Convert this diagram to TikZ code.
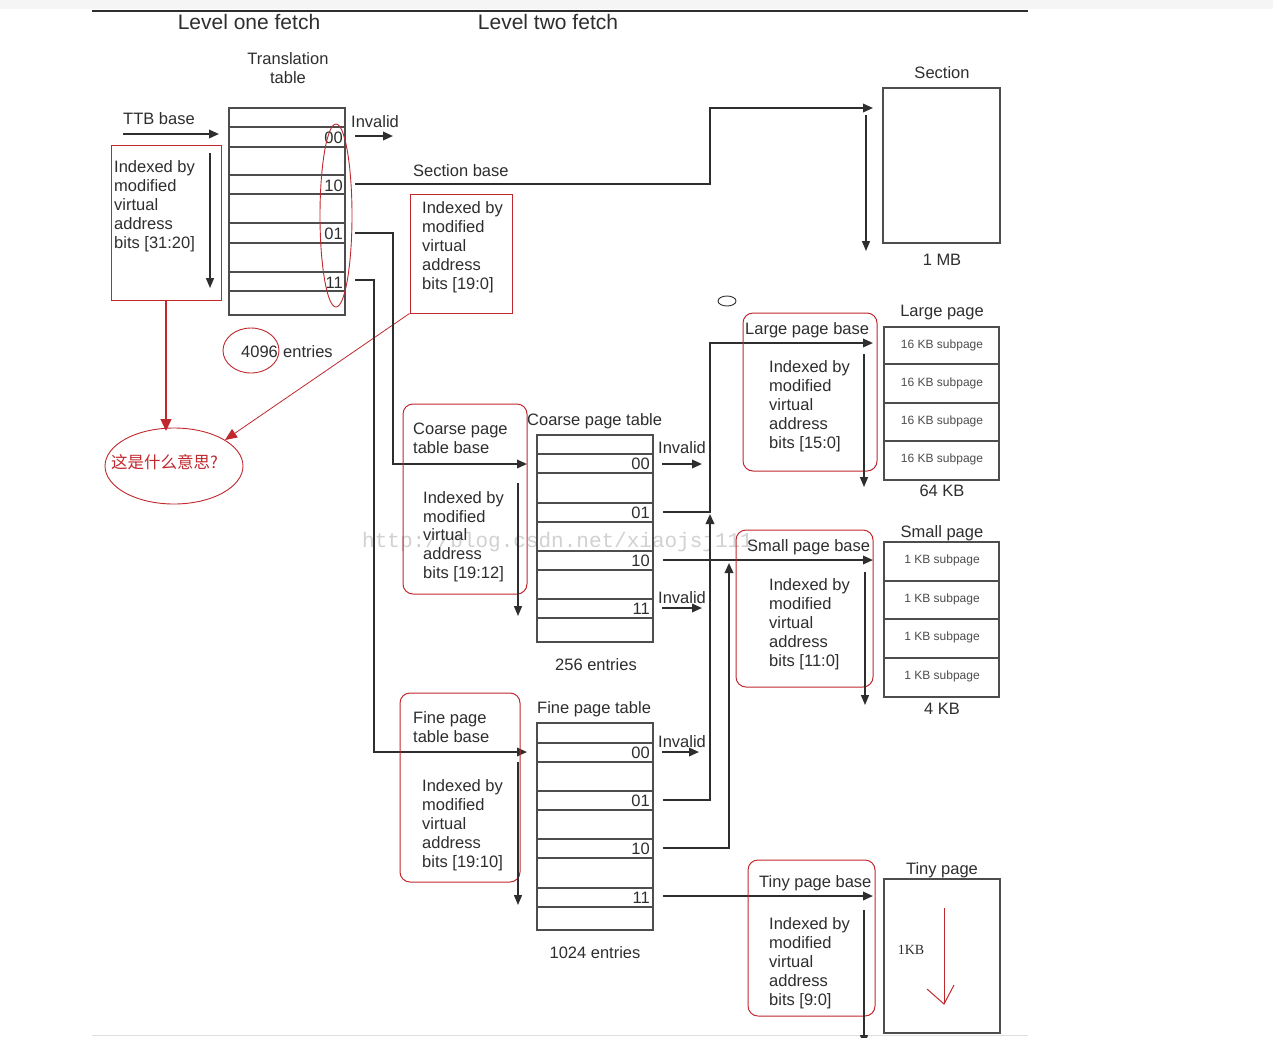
\documentclass[tikz,border=0pt]{standalone}
\usepackage{fontspec}
\setmainfont{Liberation Sans}
\newfontfamily\cjkfont{Noto Sans CJK SC}
\newfontfamily\wmfont{Liberation Mono}
\newfontfamily\serfont{Liberation Serif}
\usetikzlibrary{arrows.meta,shapes.geometric}
\definecolor{rd}{HTML}{C0282E}
\definecolor{ink}{HTML}{2E2E2E}
\begin{document}
\begin{tikzpicture}[x=1pt,y=-1pt,
  lbl/.style={font=\fontsize{16.5}{19.2}\selectfont, text=ink, inner sep=0pt},
  hdr/.style={font=\fontsize{21}{24}\selectfont, text=ink, inner sep=0pt},
  sml/.style={font=\fontsize{12}{14}\selectfont, text=ink!85, inner sep=0pt},
  blk/.style={lbl, align=left, anchor=north west},
  conn/.style={draw=ink, line width=1.9pt},
  arr/.style={conn, -{Triangle[length=10pt,width=8.5pt]}},
  idx/.style={draw=ink, line width=1.3pt, -{Triangle[length=10pt,width=8pt]}},
  rbox/.style={draw=rd, line width=1pt, inner sep=0pt},
  rrbox/.style={rbox, rounded corners=10pt},
  tbl/.style={draw=ink!85, line width=1.3pt, inner sep=0pt},
  rline/.style={draw=rd, line width=1pt},
]
\useasboundingbox (0,0) rectangle (1273,1037);
\fill[white] (0,0) rectangle (1273,1037);
\fill[black!4] (0,0) rectangle (1273,9);
\draw[ink, line width=1.5pt] (92,11) -- (1028,11);
\draw[black!12, line width=1pt] (92,1035.5) -- (1028,1035.5);

% watermark
\node[font=\wmfont\fontsize{21}{24}\selectfont, text=black!18, inner sep=0pt, anchor=base west] (wm) at (362,547) {http://blog.csdn.net/xiaojsj111};

% headers
\node[hdr, anchor=base] (h1) at (249,29) {Level one fetch};
\node[hdr, anchor=base] (h2) at (548,29) {Level two fetch};

% ---------- translation table ----------
\node[lbl, align=center, anchor=north] (ttl) at (288,52) {Translation\\table};
\node[tbl, minimum width=116, minimum height=207] (tt) at (287,211.5) {};
\foreach \y in {127,147,175,194,223,243,272,291} \draw[tbl] (229,\y) -- (345,\y);
\node[lbl, anchor=base east] (t00) at (343,143) {00};
\node[lbl, anchor=base east] (t10) at (343,191) {10};
\node[lbl, anchor=base east] (t01) at (343,239) {01};
\node[lbl, anchor=base east] (t11) at (343,288) {11};
\node[ellipse, draw=rd, line width=0.9pt, minimum width=32, minimum height=183, inner sep=0pt] (tte) at (336,215.5) {};

\node[lbl, anchor=base west] (ttb) at (123,124) {TTB base};
\coordinate (ttbS) at (123,134);
\coordinate (ttbE) at (219,134);
\draw[arr] (ttbS) -- (ttbE);

\node[rbox, minimum width=110, minimum height=155] (b1) at (166,222.5) {};
\node[blk] (b1t) at (114,160) {Indexed by\\modified\\virtual\\address\\bits [31:20]};
\draw[idx] (210,153) -- (210,288);

\node[lbl, anchor=base west] (inv0) at (351,127) {Invalid};
\coordinate (inv0S) at (355,136);
\coordinate (inv0E) at (393,136);
\draw[arr] (inv0S) -- (inv0E);

\node[ellipse, draw=rd, line width=0.9pt, minimum width=56, minimum height=45, inner sep=0pt] (e4096) at (251,350.5) {};
\node[lbl, anchor=base west] (n4096) at (241,357) {4096};
\node[lbl, anchor=base west] (nent) at (283,357) {entries};

\node[ellipse, draw=rd, line width=0.9pt, minimum width=138, minimum height=76, inner sep=0pt] (q) at (174,466) {};
\node[font=\cjkfont\fontsize{16.5}{19}\selectfont, text=rd, inner sep=0pt, anchor=base west] (qt) at (111,468) {这是什么意思?};

% section
\node[lbl, anchor=base west] (sb) at (413,176) {Section base};
\coordinate (s10) at (355,184);
\coordinate (sec) at (873,108);
\draw[arr] (s10) -- (710,184) -- (710,108) -- (sec);
\node[lbl, anchor=base] (secl) at (942,78) {Section};
\node[tbl, minimum width=117, minimum height=155] (secb) at (941.5,165.5) {};
\node[lbl, anchor=base] (mb) at (942,265) {1 MB};
\draw[idx] (866,115) -- (866,251);

\node[rbox, minimum width=102, minimum height=119] (b2) at (461,253.5) {};
\node[blk] (b2t) at (422,201) {Indexed by\\modified\\virtual\\address\\bits [19:0]};

% red annotation arrows
\coordinate (qtop) at (166,431);
\draw[rline, line width=1.3pt, -{Triangle[length=12pt,width=11pt]}] (b1.south) -- (qtop);
\draw[draw=rd, line width=0.8pt, -{Triangle[length=12pt,width=10pt]}] (b2.south west) -- (225,440);

% ---------- coarse page table ----------
\coordinate (c01s) at (355,233);
\coordinate (cpt) at (527,464);
\draw[arr] (c01s) -- (393,233) -- (393,464) -- (cpt);
\node[rrbox, minimum width=124, minimum height=190] (b3) at (465,499) {};
\node[blk] (b3a) at (413,423) {Coarse page\\table base};
\node[blk, font=\fontsize{16.5}{18.9}\selectfont] (b3t) at (423,491) {Indexed by\\modified\\virtual\\address\\bits [19:12]};
\draw[idx] (518,483) -- (518,616);

\node[lbl, anchor=base west] (cptl) at (527,425) {Coarse page table};
\node[tbl, minimum width=116, minimum height=207] (ct) at (595,538.5) {};
\foreach \y in {454,473,503,522,551,570,599,618} \draw[tbl] (537,\y) -- (653,\y);
\node[lbl, anchor=base east] (c00) at (650,469) {00};
\node[lbl, anchor=base east] (c01) at (650,518) {01};
\node[lbl, anchor=base east] (c10) at (650,566) {10};
\node[lbl, anchor=base east] (c11) at (650,614) {11};
\node[lbl, anchor=base] (c256) at (596,670) {256 entries};
\node[lbl, anchor=base west] (cinv1) at (658,453) {Invalid};
\node[lbl, anchor=base west] (cinv2) at (658,603) {Invalid};
\draw[arr] (662,464) -- (702,464);
\draw[arr] (662,608) -- (702,608);

% ---------- fine page table ----------
\coordinate (f11s) at (355,280);
\coordinate (fpt) at (527,752);
\draw[arr] (f11s) -- (374,280) -- (374,752) -- (fpt);
\node[rrbox, minimum width=120, minimum height=189] (b4) at (460,787.5) {};
\node[blk] (b4a) at (413,711) {Fine page\\table base};
\node[blk] (b4t) at (422,779) {Indexed by\\modified\\virtual\\address\\bits [19:10]};
\draw[idx] (518,762) -- (518,905);

\node[lbl, anchor=base west] (fptl) at (537,713) {Fine page table};
\node[tbl, minimum width=116, minimum height=207] (ft) at (595,826.5) {};
\foreach \y in {743,762,791,810,839,858,888,907} \draw[tbl] (537,\y) -- (653,\y);
\node[lbl, anchor=base east] (f00) at (650,758) {00};
\node[lbl, anchor=base east] (f01) at (650,806) {01};
\node[lbl, anchor=base east] (f10) at (650,854) {10};
\node[lbl, anchor=base east] (f11) at (650,903) {11};
\node[lbl, anchor=base] (f1024) at (595,958) {1024 entries};
\node[lbl, anchor=base west] (finv) at (658,747) {Invalid};
\draw[arr] (662,752) -- (699,752);

% ---------- second-level connectors ----------
\coordinate (lpb) at (873,343);
\coordinate (spb) at (873,560);
\coordinate (tpb) at (873,896);
\draw[arr] (663,512) -- (710,512) -- (710,343) -- (lpb);
\draw[arr] (663,560) -- (spb);
\draw[arr] (663,800) -- (710,800) -- (710,514);
\draw[arr] (663,848) -- (729,848) -- (729,563);
\draw[arr] (663,896) -- (tpb);

% ---------- large page ----------
\draw[ink, line width=0.9pt] (727,301) ellipse (9 and 5);
\node[rrbox, minimum width=134, minimum height=158] (b5) at (810,392) {};
\node[lbl, anchor=base west] (lpbl) at (745,334) {Large page base};
\node[blk] (b5t) at (769,360) {Indexed by\\modified\\virtual\\address\\bits [15:0]};
\draw[idx] (864,354) -- (864,487);
\node[lbl, anchor=base] (lpl) at (942,316) {Large page};
\node[tbl, minimum width=115, minimum height=153] (lp) at (941.5,403.5) {};
\foreach \y in {364,403,441} \draw[tbl] (884,\y) -- (999,\y);
\foreach \y/\n in {345/1,383/2,421/3,459/4}
  \node[sml] (lps\n) at (942,\y) {16 KB subpage};
\node[lbl, anchor=base] (l64) at (942,496) {64 KB};

% ---------- small page ----------
\node[rrbox, minimum width=137, minimum height=157] (b6) at (804.5,608.5) {};
\node[lbl, anchor=base west] (spbl) at (747,551) {Small page base};
\node[blk] (b6t) at (769,578) {Indexed by\\modified\\virtual\\address\\bits [11:0]};
\draw[idx] (865,572) -- (865,705);
\node[lbl, anchor=base] (spl) at (942,537) {Small page};
\node[tbl, minimum width=115, minimum height=155] (sp) at (941.5,619.5) {};
\foreach \y in {581,619,658} \draw[tbl] (884,\y) -- (999,\y);
\foreach \y/\n in {560/1,599/2,637/3,676/4}
  \node[sml] (sps\n) at (942,\y) {1 KB subpage};
\node[lbl, anchor=base] (s4) at (942,714) {4 KB};

% ---------- tiny page ----------
\node[rrbox, minimum width=127, minimum height=156] (b7) at (811.5,938) {};
\node[lbl, anchor=base west] (tpbl) at (759,887) {Tiny page base};
\node[blk] (b7t) at (769,917) {Indexed by\\modified\\virtual\\address\\bits [9:0]};
\draw[idx] (864,910) -- (864,1045);
\node[lbl, anchor=base] (tpl) at (942,874) {Tiny page};
\node[tbl, minimum width=116, minimum height=154] (tp) at (942,956) {};
\node[font=\serfont\fontsize{14}{16}\selectfont, text=ink, inner sep=0pt] (tkb) at (911,950) {1KB};
\draw[rline] (944,908) -- (944,1004);
\draw[rline] (927,989) -- (944,1004) -- (954,985);
\end{tikzpicture}
\end{document}
